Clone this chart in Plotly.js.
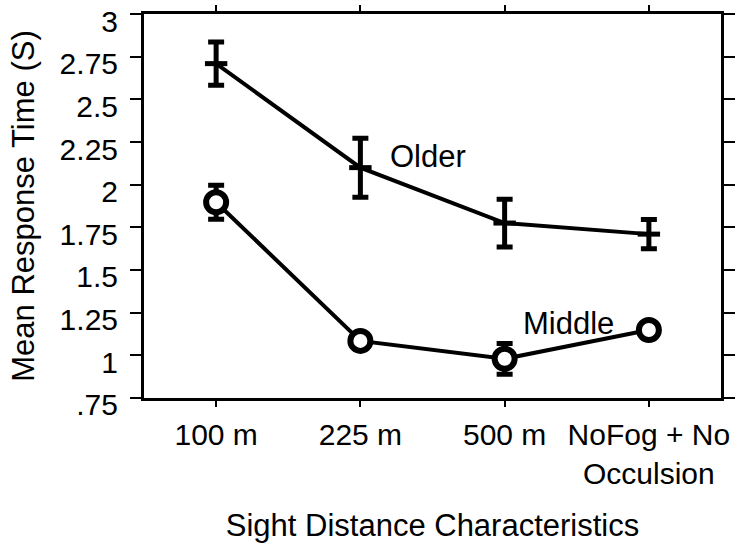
<!DOCTYPE html>
<html>
<head>
<meta charset="utf-8">
<script src="https://cdn.plot.ly/plotly-3.0.1.min.js"></script>
<style>html,body{margin:0;padding:0;background:#fff;}#chart{width:737px;height:545px;}</style>
</head>
<body>
<div id="chart"></div>
<script>
// Data
var categories = ["100 m", "225 m", "500 m", "NoFog + No<br>Occulsion"];
var olderMean = [2.71, 2.10, 1.775, 1.71];
var olderErr = [0.127, 0.173, 0.14, 0.086];
var middleMean = [1.897, 1.084, 0.979, 1.148];
var middleErr = [0.10, 0.04, 0.09, 0.03];
var yTickVals = [0.75, 1, 1.25, 1.5, 1.75, 2, 2.25, 2.5, 2.75, 3];
var yTickText = [".75", "1", "1.25", "1.5", "1.75", "2", "2.25", "2.5", "2.75", "3"];
var seriesLabels = ["Older", "Middle"];

var FONT = "Arial, 'Liberation Sans', sans-serif";

var traces = [
  {
    x: categories, y: olderMean, type: "scatter", mode: "lines+markers",
    name: seriesLabels[0], cliponaxis: false,
    line: {color: "#000", width: 4},
    marker: {symbol: "line-ew", size: 16, color: "#000", line: {color: "#000", width: 5}},
    error_y: {type: "data", array: olderErr, visible: true, color: "#000", thickness: 5, width: 8}
  },
  {
    x: categories, y: middleMean, type: "scatter", mode: "lines+markers",
    name: seriesLabels[1], cliponaxis: false,
    line: {color: "#000", width: 4},
    marker: {symbol: "circle", size: 20, color: "#fff", line: {color: "#000", width: 6}},
    error_y: {type: "data", array: middleErr, visible: true, color: "#000", thickness: 5, width: 8}
  }
];

var layout = {
  width: 737, height: 545,
  margin: {l: 144, r: 16, t: 14, b: 147},
  paper_bgcolor: "#fff", plot_bgcolor: "#fff",
  showlegend: false,
  font: {family: FONT, size: 30, color: "#000"},
  xaxis: {
    type: "category", range: [-0.5, 3.5],
    showline: true, linecolor: "#000", linewidth: 3, mirror: "ticks",
    ticks: "outside", ticklen: 6, tickwidth: 2, tickcolor: "#000",
    showgrid: false, zeroline: false,
    tickfont: {family: FONT, size: 30, color: "#000"},
    ticklabelstandoff: 2, ticklabeloverflow: "allow",
    title: {text: "Sight Distance Characteristics", font: {family: FONT, size: 31, color: "#000"}, standoff: 26},
    automargin: false, fixedrange: true
  },
  yaxis: {
    range: [0.749, 3.001],
    tickvals: yTickVals, ticktext: yTickText,
    showline: true, linecolor: "#000", linewidth: 3, mirror: "ticks",
    ticks: "outside", ticklen: 11, tickwidth: 2, tickcolor: "#000",
    showgrid: false, zeroline: false,
    tickfont: {family: FONT, size: 30, color: "#000"},
    ticklabelstandoff: 6, ticklabeloverflow: "allow",
    title: {text: "Mean Response Time (S)", font: {family: FONT, size: 31, color: "#000"}, standoff: 16},
    automargin: false, fixedrange: true
  },
  annotations: [
    {x: 1.47, y: 2.168, xref: "x", yref: "y", text: seriesLabels[0], showarrow: false,
     font: {family: FONT, size: 31, color: "#000"}},
    {x: 2.44, y: 1.184, xref: "x", yref: "y", text: seriesLabels[1], showarrow: false,
     font: {family: FONT, size: 31, color: "#000"}}
  ]
};

Plotly.newPlot("chart", traces, layout, {displayModeBar: false, staticPlot: true}).then(function (gd) {
  // In the reference the y tick labels sit a few pixels below their ticks
  var labels = gd.querySelectorAll("g.ytick text");
  for (var i = 0; i < labels.length; i++) {
    var t = labels[i].getAttribute("transform") || "";
    labels[i].setAttribute("transform", t + " translate(0,7)");
  }
});
</script>
</body>
</html>
